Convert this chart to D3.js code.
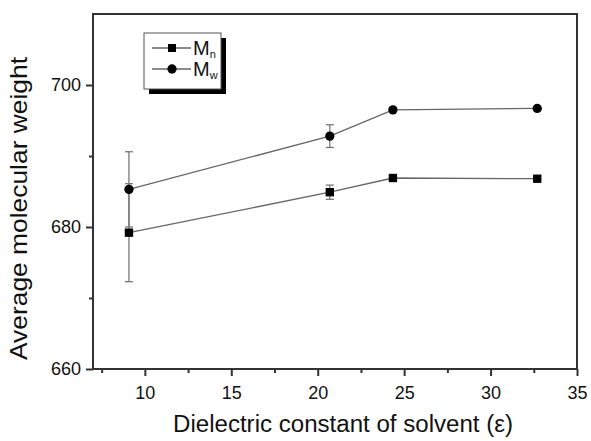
<!DOCTYPE html>
<html>
<head>
<meta charset="utf-8">
<script src="https://cdn.jsdelivr.net/npm/d3@7/dist/d3.min.js"></script>
<style>
  body { margin: 0; background: #fff; }
  text { font-family: "Liberation Sans", Arial, sans-serif; fill: #111; }
</style>
</head>
<body>
<div id="chart"></div>
<script>
// solvent dielectric constants
var eps = [9.08, 20.7, 24.35, 32.7];
var mn = [679.2, 684.9, 686.9, 686.8];
var mnErr = [6.9, 1.0, 0, 0];
var mw = [685.3, 692.8, 696.5, 696.7];
var mwErr = [5.3, 1.6, 0, 0];
var xTicks = [10, 15, 20, 25, 30, 35];
var yTicks = [660, 680, 700];

var width = 591, height = 441;
var margin = {left: 93, top: 14, right: 14, bottom: 72};

var svg = d3.select("#chart").append("svg")
    .attr("width", width)
    .attr("height", height);

var x = d3.scaleLinear().domain([7, 35]).range([margin.left, width - margin.right]);
var y = d3.scaleLinear().domain([660, 710]).range([height - margin.bottom, margin.top]);

var axisColor = "#333";

//frame
svg.append("rect")
    .attr("x", x(7)).attr("y", y(710))
    .attr("width", x(35) - x(7)).attr("height", y(660) - y(710))
    .attr("fill", "none").attr("stroke", axisColor).attr("stroke-width", 2);

//x axis, major + minor ticks
var xAxis = svg.append("g").attr("transform", "translate(0," + y(660) + ")");
xAxis.call(d3.axisBottom(x).tickValues(xTicks).tickSize(7).tickSizeOuter(0).tickPadding(10).tickFormat(d3.format("d")));
xAxis.append("g").call(d3.axisBottom(x).tickValues([7.5, 12.5, 17.5, 22.5, 27.5, 32.5]).tickSize(4).tickSizeOuter(0).tickFormat(""));

var yAxis = svg.append("g").attr("transform", "translate(" + x(7) + ",0)");
yAxis.call(d3.axisLeft(y).tickValues(yTicks).tickSize(7).tickSizeOuter(0).tickPadding(5).tickFormat(d3.format("d")));
yAxis.append("g").call(d3.axisLeft(y).tickValues([670, 690]).tickSize(4).tickSizeOuter(0).tickFormat(""));

svg.selectAll(".domain").remove();
svg.selectAll(".tick line").attr("stroke", axisColor).attr("stroke-width", 2);
svg.selectAll(".tick text").attr("font-size", 18).attr("fill", "#111")
    .style("font-family", "'Liberation Sans', Arial, sans-serif");

//titles
svg.append("text")
    .attr("x", 173)
    .attr("y", 432)
    .attr("font-size", 23)
    .attr("textLength", 340)
    .attr("lengthAdjust", "spacingAndGlyphs")
    .text("Dielectric constant of solvent (\u03b5)");

svg.append("text")
    .attr("transform", "translate(27,360) rotate(-90)")
    .attr("font-size", 24)
    .attr("textLength", 303)
    .attr("lengthAdjust", "spacingAndGlyphs")
    .text("Average molecular weight");

var lineColor = "#666";
var line = d3.line().x(function(d){ return x(d[0]); }).y(function(d){ return y(d[1]); });

function drawSeries(vals, errs, shape){
    var pts = eps.map(function(e, i){ return [e, vals[i], errs[i]]; });
    svg.append("path")
        .datum(pts)
        .attr("d", line)
        .attr("fill", "none")
        .attr("stroke", lineColor)
        .attr("stroke-width", 1.3);

    var eb = svg.append("g").selectAll("g")
        .data(pts.filter(function(d){ return d[2] > 0; }))
        .enter().append("g")
        .attr("stroke", "#777").attr("stroke-width", 1.3);
    eb.append("line")
        .attr("x1", function(d){ return x(d[0]); }).attr("x2", function(d){ return x(d[0]); })
        .attr("y1", function(d){ return y(d[1] - d[2]); }).attr("y2", function(d){ return y(d[1] + d[2]); });
    eb.append("line")
        .attr("x1", function(d){ return x(d[0]) - 4; }).attr("x2", function(d){ return x(d[0]) + 4; })
        .attr("y1", function(d){ return y(d[1] + d[2]); }).attr("y2", function(d){ return y(d[1] + d[2]); });
    eb.append("line")
        .attr("x1", function(d){ return x(d[0]) - 4; }).attr("x2", function(d){ return x(d[0]) + 4; })
        .attr("y1", function(d){ return y(d[1] - d[2]); }).attr("y2", function(d){ return y(d[1] - d[2]); });

    var sym = d3.symbol().type(shape === "square" ? d3.symbolSquare : d3.symbolCircle)
        .size(shape === "square" ? 70 : 68);
    svg.append("g").selectAll("path")
        .data(pts)
        .enter().append("path")
        .attr("d", sym)
        .attr("transform", function(d){ return "translate(" + x(d[0]) + "," + y(d[1]) + ")"; })
        .attr("fill", "#000");
}

drawSeries(mn, mnErr, "square");
drawSeries(mw, mwErr, "circle");

//legend with drop shadow
var lg = svg.append("g").attr("transform", "translate(144,33)");
lg.append("rect").attr("x", 5).attr("y", 5).attr("width", 77).attr("height", 56).attr("fill", "#000");
lg.append("rect").attr("x", 0).attr("y", 0).attr("width", 77).attr("height", 56)
    .attr("fill", "#fff").attr("stroke", "#555").attr("stroke-width", 1);

var legendItems = [
    {sub: "n", shape: d3.symbolSquare, size: 64, y: 15},
    {sub: "w", shape: d3.symbolCircle, size: 68, y: 36}
];
var li = lg.selectAll(".item").data(legendItems).enter().append("g")
    .attr("transform", function(d){ return "translate(0," + d.y + ")"; });
li.append("line").attr("x1", 8).attr("x2", 47).attr("y1", 0).attr("y2", 0)
    .attr("stroke", lineColor).attr("stroke-width", 1.3);
li.append("path").attr("d", function(d){ return d3.symbol().type(d.shape).size(d.size)(); })
    .attr("transform", "translate(28,0)").attr("fill", "#000");
var lt = li.append("text").attr("x", 49).attr("y", 7).attr("font-size", 20);
lt.append("tspan").text("M");
lt.append("tspan").attr("font-size", 11).attr("dy", 3).text(function(d){ return d.sub; });
</script>
</body>
</html>
